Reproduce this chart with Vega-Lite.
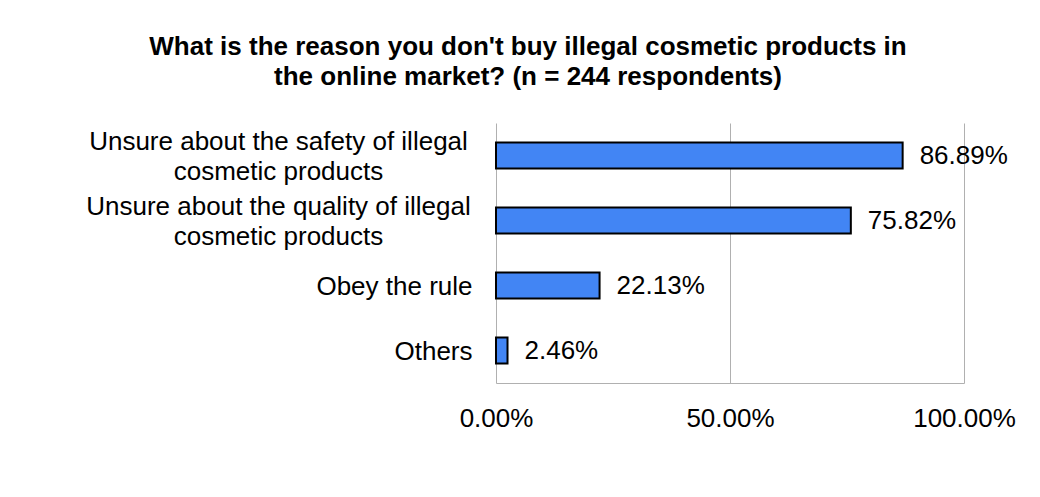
{
  "$schema": "https://vega.github.io/schema/vega-lite/v6.json",
  "width": 468,
  "height": 260,
  "autosize": "none",
  "padding": {"left": 496, "top": 123, "right": 76, "bottom": 114},
  "background": "white",
  "title": {
    "text": ["What is the reason you don't buy illegal cosmetic products in", "the online market? (n = 244 respondents)"],
    "font": "Liberation Sans",
    "fontSize": 26,
    "fontWeight": "bold",
    "color": "black",
    "lineHeight": 30,
    "anchor": "middle",
    "dx": -202,
    "offset": 33
  },
  "data": {
    "values": [
      {"key": "a", "pct": 0.8689},
      {"key": "b", "pct": 0.7582},
      {"key": "c", "pct": 0.2213},
      {"key": "d", "pct": 0.0246}
    ]
  },
  "encoding": {
    "y": {
      "field": "key",
      "type": "nominal",
      "sort": null,
      "scale": {"paddingInner": 0.6, "paddingOuter": 0.3},
      "axis": {
        "title": null,
        "ticks": false,
        "domain": false,
        "labelExpr": "datum.value == 'a' ? ['Unsure about the safety of illegal', 'cosmetic products'] : datum.value == 'b' ? ['Unsure about the quality of illegal', 'cosmetic products'] : datum.value == 'c' ? 'Obey the rule' : 'Others'",
        "labelFont": "Liberation Sans",
        "labelFontSize": 26,
        "labelColor": "black",
        "labelLineHeight": 30,
        "labelAlign": {"condition": {"test": "datum.value == 'a' || datum.value == 'b'", "value": "center"}, "value": "right"},
        "labelPadding": {"condition": {"test": "datum.value == 'a' || datum.value == 'b'", "value": 218}, "value": 24},
        "labelOffset": {"condition": {"test": "datum.value == 'a' || datum.value == 'b'", "value": -14}, "value": 1},
        "labelLimit": 600
      }
    },
    "x": {
      "field": "pct",
      "type": "quantitative",
      "scale": {"domain": [0, 1]},
      "axis": {
        "title": null,
        "values": [0, 0.5, 1],
        "format": ".2%",
        "ticks": false,
        "domain": true,
        "domainColor": "#b0b0b0",
        "domainWidth": 1,
        "grid": true,
        "gridColor": "#b0b0b0",
        "gridWidth": 1,
        "labelFont": "Liberation Sans",
        "labelFontSize": 26,
        "labelColor": "black",
        "labelPadding": 22,
        "labelFlush": false
      }
    }
  },
  "layer": [
    {
      "mark": {"type": "bar", "color": "#4285f4", "stroke": "black", "strokeWidth": 2}
    },
    {
      "mark": {"type": "text", "align": "left", "baseline": "middle", "dx": 17, "font": "Liberation Sans", "fontSize": 26, "color": "black"},
      "encoding": {
        "text": {"field": "pct", "type": "quantitative", "format": ".2%"}
      }
    }
  ],
  "config": {
    "view": {"stroke": null}
  }
}
